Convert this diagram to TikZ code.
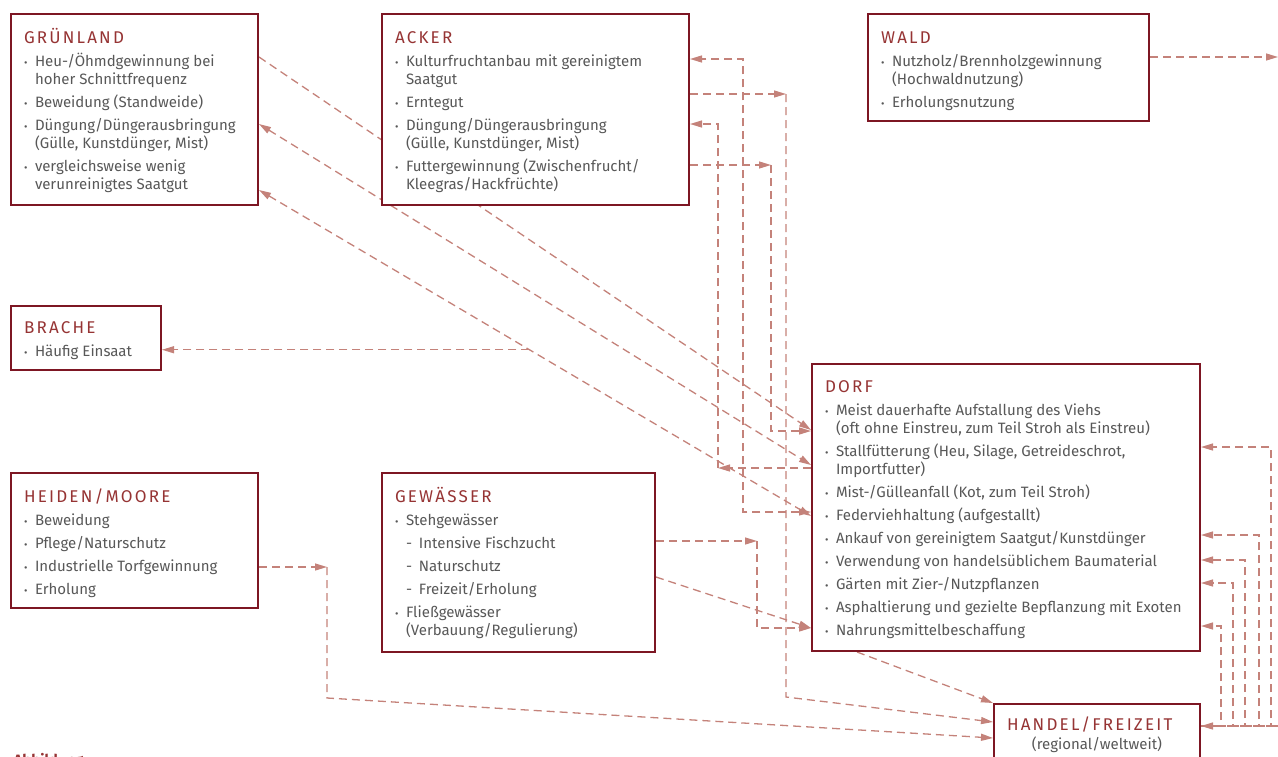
\documentclass[tikz,border=0pt]{standalone}
\usepackage{fontspec}
\setmainfont{Fira Sans}
\usetikzlibrary{
  arrows.meta,
  calc,
  backgrounds
}
\definecolor{boxred}{RGB}{125,22,35}
\definecolor{titlered}{RGB}{150,52,52}
\definecolor{textgrey}{RGB}{88,88,88}
\definecolor{linkred}{RGB}{196,130,122}

% one line of a box: bullet and hanging indent
\newcommand{\punkt}[1]{\par\hangindent=11pt\hangafter=1\noindent\makebox[11pt][l]{\scalebox{0.7}{•}}#1}
\newcommand{\strich}[1]{\par\hangindent=24pt\hangafter=1\noindent\hspace*{11pt}\makebox[13pt][l]{-}#1}
\newcommand{\titel}[2][29pt]{\noindent\rule{0pt}{#1}{\color{titlered}\fontsize{17}{18}\selectfont\addfontfeature{LetterSpace=13}#2}}
\newcommand{\feld}[3]{%
  \begin{minipage}[c][#2][t]{#1}\raggedright\fontsize{15}{18}\selectfont\parskip=5pt\color{textgrey}#3\end{minipage}}

\begin{document}
\begin{tikzpicture}[
  x=1pt,
  y=-1pt,
  box/.style={
    draw=boxred,
    line width=2pt,
    fill=white,
    inner xsep=13pt,
    inner ysep=0pt,
    anchor=north west,
  },
  link/.style={
    draw=linkred,
    line width=1.3pt,
    dash pattern=on 8pt off 5pt,
  },
  >={Triangle[length=12pt,width=7pt]}
]
\useasboundingbox (0,0) rectangle (1278,756);

% Boxes
\node[box] (gruen) at (10,13) {\feld{221pt}{191pt}{%
  \titel{GRÜNLAND}
  \punkt{Heu-/Öhmdgewinnung bei\newline hoher Schnittfrequenz}
  \punkt{Beweidung (Standweide)}
  \punkt{Düngung/Düngerausbringung\newline (Gülle, Kunstdünger, Mist)}
  \punkt{vergleichsweise wenig\newline verunreinigtes Saatgut}}};

\node[box] (acker) at (381,13) {\feld{281pt}{191pt}{%
  \titel{ACKER}
  \punkt{Kulturfruchtanbau mit gereinigtem\newline Saatgut}
  \punkt{Erntegut}
  \punkt{Düngung/Düngerausbringung\newline (Gülle, Kunstdünger, Mist)}
  \punkt{Futtergewinnung (Zwischenfrucht/\newline Kleegras/Hackfrüchte)}}};

\node[box] (wald) at (867,13) {\feld{255pt}{107pt}{%
  \titel{WALD}
  \punkt{Nutzholz/Brennholzgewinnung\newline (Hochwaldnutzung)}
  \punkt{Erholungsnutzung}}};

\node[box] (brache) at (10,305) {\feld{124pt}{64pt}{%
  \titel[27pt]{BRACHE}
  \punkt{Häufig Einsaat}}};

\node[box] (heide) at (10,472) {\feld{221pt}{135pt}{%
  \titel{HEIDEN/MOORE}
  \punkt{Beweidung}
  \punkt{Pflege/Naturschutz}
  \punkt{Industrielle Torfgewinnung}
  \punkt{Erholung}}};

\node[box] (gewaesser) at (381,472) {\feld{247pt}{179pt}{%
  \titel{GEWÄSSER}
  \punkt{Stehgewässer}
  \strich{Intensive Fischzucht}
  \strich{Naturschutz}
  \strich{Freizeit/Erholung}
  \punkt{Fließgewässer\newline (Verbauung/Regulierung)}}};

\node[box] (dorf) at (811,363) {\feld{362pt}{287pt}{%
  \titel[28pt]{DORF}
  \punkt{Meist dauerhafte Aufstallung des Viehs\newline (oft ohne Einstreu, zum Teil Stroh als Einstreu)}
  \punkt{Stallfütterung (Heu, Silage, Getreideschrot,\newline Importfutter)}
  \punkt{Mist-/Gülleanfall (Kot, zum Teil Stroh)}
  \punkt{Federviehhaltung (aufgestallt)}
  \punkt{Ankauf von gereinigtem Saatgut/Kunstdünger}
  \punkt{Verwendung von handelsüblichem Baumaterial}
  \punkt{Gärten mit Zier-/Nutzpflanzen}
  \punkt{Asphaltierung und gezielte Bepflanzung mit Exoten}
  \punkt{Nahrungsmittelbeschaffung}}};

\node[box] (handel) at (993,703) {\feld{180pt}{80pt}{%
  \titel[26pt]{HANDEL/FREIZEIT}\par\vspace{-4pt}
  {\centering(regional/weltweit)\par}}};

\node[anchor=base west, text=titlered, font=\bfseries\fontsize{15}{18}\selectfont] (abb) at (10,765) {Abbildung};

% Connectors
\begin{scope}[on background layer]
  % Gruenland - Dorf
  \draw[link,->] ($(gruen.north east)+(0,44)$) -- ($(dorf.north west)+(0,67)$);
  \draw[link,<->] ($(gruen.north east)+(0,111)$) -- ($(dorf.north west)+(0,102)$);
  \draw[link,<->] ($(gruen.north east)+(0,177)$) coordinate (g3) -- ($(dorf.north west)+(0,153)$) coordinate (d3);
  \coordinate (abzweig) at ($(g3)!0.49!(d3)$);
  \draw[link,->] (abzweig) -- (abzweig -| brache.east);

  % Acker - Dorf
  \draw[link,<->] ($(dorf.north west)+(0,149)$) -| ($(acker.north east)+(53,46)$) -- ($(acker.north east)+(0,46)$);

  \coordinate (k-mist) at ($(dorf.north west)+(-93,105)$);
  \draw[link,->] ($(dorf.north west)+(0,105)$) -- (k-mist);
  \draw[link,->] (k-mist) |- ($(acker.north east)+(0,111)$);

  \coordinate (k-futter) at ($(acker.north east)+(81,152)$);
  \draw[link,->] ($(acker.north east)+(0,152)$) -- (k-futter);
  \draw[link,->] (k-futter) |- ($(dorf.north west)+(0,68)$);

  % Acker - Handel
  \coordinate (k-ernte) at ($(acker.north east)+(96,81)$);
  \coordinate (k-ernte2) at ($(acker.north east)+(96,684)$);
  \draw[link,->] ($(acker.north east)+(0,81)$) -- (k-ernte);
  \draw[link,->] (k-ernte) -- (k-ernte2) -- ($(handel.north west)+(0,19)$);

  % Gewaesser - Dorf
  \coordinate (k-fisch) at ($(gewaesser.north east)+(101,69)$);
  \draw[link,->] ($(gewaesser.north east)+(0,69)$) -- (k-fisch);
  \draw[link,->] (k-fisch) |- ($(dorf.north west)+(0,265)$);
  \draw[link,->] ($(gewaesser.north east)+(0,105)$) -- ($(dorf.north west)+(0,265)$);

  % Dorf - Handel
  \draw[link,->] ($(dorf.south west)+(46,0)$) -- (handel.north west);

  % Heiden - Handel
  \coordinate (k-torf) at ($(heide.north east)+(68,95)$);
  \draw[link,->] ($(heide.north east)+(0,95)$) -- (k-torf);
  \draw[link,->] (k-torf) -- ($(k-torf)+(0,131)$) -- ($(handel.north west)+(0,35)$);

  % Wald - Handel (over the page edge)
  \coordinate (rand-wald) at (1278,57);
  \coordinate (rand-handel) at (1278,726);
  \draw[link,->] ($(wald.north east)+(0,44)$) -- (rand-wald);
  \draw[link,->] (rand-handel) -- ($(handel.north east)+(0,23)$);

  % Handel - Dorf
  \foreach \dx/\dy in {20/263, 32/220, 44/197, 58/172, 70/84}
    \draw[link,->] ($(handel.north east)+(0,23)$) -| ($(dorf.north east)+(\dx,\dy)$) -- ($(dorf.north east)+(0,\dy)$);
\end{scope}

\end{tikzpicture}
\end{document}
